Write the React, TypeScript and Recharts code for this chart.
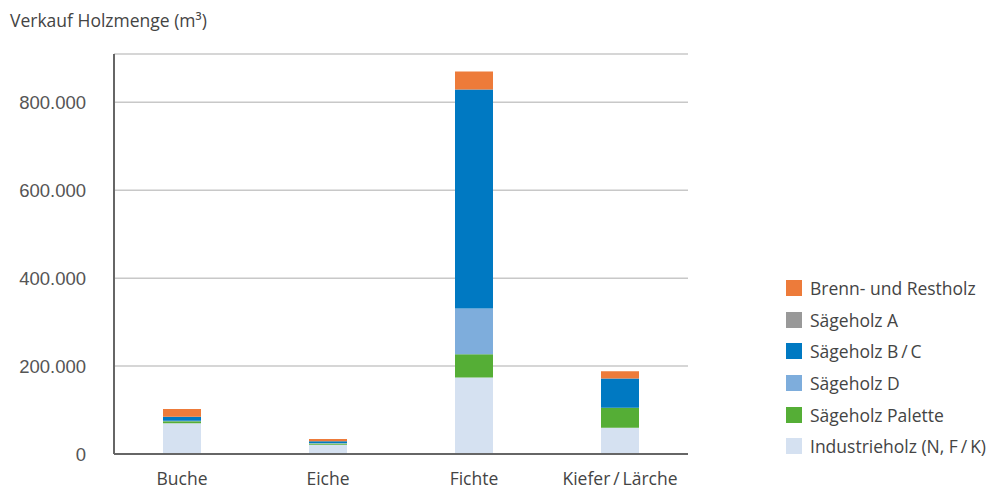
import React from 'react';
import { BarChart, Bar, XAxis, YAxis, CartesianGrid } from 'recharts';

const categories = ['Buche', 'Eiche', 'Fichte', 'Kiefer\u2009/\u2009Lärche'];
const industrieholz = [70000, 21000, 174000, 60000];
const saegeholzPalette = [4500, 3000, 53000, 45000];
const saegeholzD = [1000, 1000, 104000, 0];
const saegeholzBC = [9000, 4000, 498000, 67000];
const saegeholzA = [0, 0, 0, 0];
const brennRestholz = [18000, 5000, 41000, 16000];
const yTicks = [0, 200000, 400000, 600000, 800000];

const series = [
  { key: 'industrie', name: 'Industrieholz (N, F\u2009/\u2009K)', color: '#D5E1F1', values: industrieholz },
  { key: 'palette', name: 'Sägeholz Palette', color: '#55AE36', values: saegeholzPalette },
  { key: 'd', name: 'Sägeholz D', color: '#7EADDC', values: saegeholzD },
  { key: 'bc', name: 'Sägeholz B\u2009/\u2009C', color: '#0079C2', values: saegeholzBC },
  { key: 'a', name: 'Sägeholz A', color: '#999999', values: saegeholzA },
  { key: 'brenn', name: 'Brenn- und Restholz', color: '#ED7B3A', values: brennRestholz },
];

const data = categories.map((c, i) => {
  const row: Record<string, any> = { name: c };
  series.forEach((s) => (row[s.key] = s.values[i]));
  return row;
});

const fmt = (v: number) => (v === 0 ? '0' : v.toLocaleString('de-DE'));

const textFont = '"Open Sans", Lato, sans-serif';

export default function App() {
  return (
    <div style={{ position: 'absolute', left: 0, top: 0, width: 993, height: 490, background: '#fff' }}>
      <div
        style={{
          position: 'absolute',
          left: 10,
          top: 7,
          fontFamily: textFont,
          fontSize: 17.5,
          color: '#444',
          lineHeight: '26px',
        }}
      >
        Verkauf Holzmenge (m³)
      </div>
      <BarChart
        width={993}
        height={490}
        data={data}
        margin={{ top: 54, right: 305, left: 0, bottom: 0 }}
        barSize={38}
      >
        <CartesianGrid horizontal vertical={false} stroke="#c8c8c8" strokeWidth={1.5} />
        <XAxis
          dataKey="name"
          height={36}
          tickSize={0}
          tickMargin={19}
          padding={{ left: -5, right: -5 }}
          axisLine={{ stroke: '#666', strokeWidth: 2 }}
          tick={{ fill: '#444', fontSize: 17.5, fontFamily: textFont }}
        />
        <YAxis
          width={114}
          domain={[0, 910000]}
          ticks={yTicks}
          tickFormatter={fmt}
          tickSize={0}
          tickMargin={28}
          axisLine={{ stroke: '#666', strokeWidth: 2 }}
          tick={{ fill: '#555', fontSize: 18.5, fontFamily: '"Liberation Sans", Arial, sans-serif' }}
        />
        {series.map((s) => (
          <Bar key={s.key} dataKey={s.key} name={s.name} stackId="a" fill={s.color} isAnimationActive={false} />
        ))}
      </BarChart>
      <div
        style={{
          position: 'absolute',
          left: 786,
          top: 272,
          fontFamily: textFont,
          fontSize: 17.5,
          color: '#444',
        }}
      >
        {[...series].reverse().map((s) => (
          <div key={s.key} style={{ display: 'flex', alignItems: 'center', height: 31.7, whiteSpace: 'nowrap' }}>
            <div style={{ width: 16, height: 16, background: s.color, marginRight: 8 }} />
            <span>{s.name}</span>
          </div>
        ))}
      </div>
    </div>
  );
}
